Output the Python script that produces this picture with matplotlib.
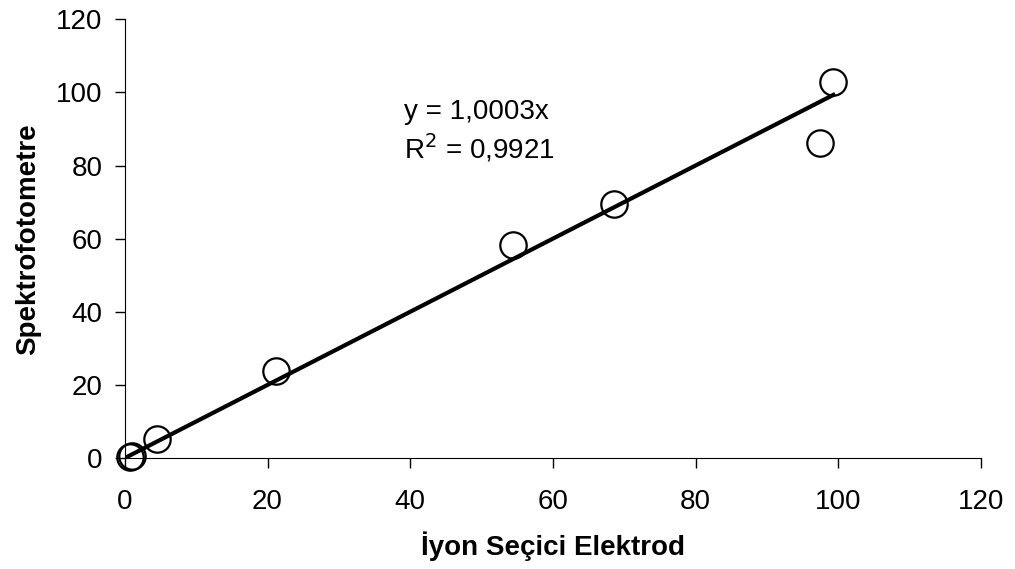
import matplotlib.pyplot as plt
import numpy as np

plt.rcParams['font.family'] = ['Liberation Sans', 'DejaVu Sans']

# Veriler
ise = [0.7, 1.0, 4.5, 21.2, 54.4, 68.6, 97.5, 99.3]  # İyon Seçici Elektrod
spektro = [0.3, 0.5, 5.1, 23.8, 58.3, 69.5, 86.2, 102.9]  # Spektrofotometre
egim = 1.0003
r2 = 0.9921

fig = plt.figure(figsize=(10.15, 5.69), dpi=100)
ax = fig.add_axes([0.123, 0.195, 0.8435, 0.771])

# Trend çizgisi
xl = np.array([0, max(ise)])
ax.plot(xl, egim * xl, color='black', linewidth=3, zorder=2)

# Noktalar
ax.plot(ise, spektro, linestyle='none', marker='o', markersize=19,
        markerfacecolor='none', markeredgecolor='black', markeredgewidth=1.6,
        zorder=3, clip_on=False)

ax.set_xlim(0, 120)
ax.set_ylim(0, 120)
ax.set_xticks(np.arange(0, 121, 20))
ax.set_yticks(np.arange(0, 121, 20))
ax.spines['top'].set_visible(False)
ax.spines['right'].set_visible(False)
ax.tick_params(direction='out', length=7, width=1, labelsize=20)
ax.tick_params(axis='x', pad=15)
ax.tick_params(axis='y', pad=9)

ax.set_xlabel('İyon Seçici Elektrod', fontsize=20, fontweight='bold', labelpad=12)
ax.set_ylabel('Spektrofotometre', fontsize=20, fontweight='bold', labelpad=11)

ax.text(39.1, 92.8, 'y = 1,0003x', fontsize=20, va='baseline')
ax.text(39.1, 81.8, 'R$^2$ = 0,9921', fontsize=20, va='baseline')

fig.savefig('out.png', dpi=100)
